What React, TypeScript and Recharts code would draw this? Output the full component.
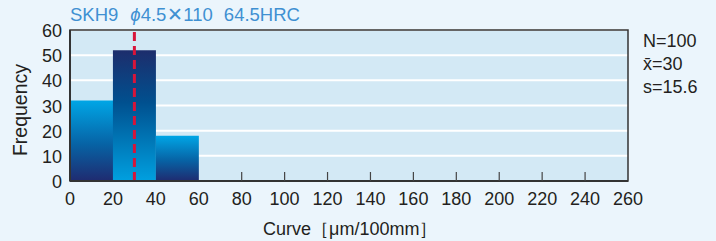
import React from 'react';
import { ComposedChart, Bar, Cell, XAxis, YAxis, CartesianGrid, ReferenceLine, ReferenceArea } from 'recharts';

const binStarts = [0, 20, 40, 60, 80, 100, 120, 140, 160, 180, 200, 220, 240];
const binWidth = 20;
const frequency = [32, 52, 18, 0, 0, 0, 0, 0, 0, 0, 0, 0, 0];
const xTicks = [0, 20, 40, 60, 80, 100, 120, 140, 160, 180, 200, 220, 240, 260];
const yTicks = [0, 10, 20, 30, 40, 50, 60];
const meanValue = 30;
const titleMaterial = 'SKH9';
const titleSize = ['\u03d5', '4.5', '\u2715', '110'];
const titleHardness = '64.5HRC';
const statsLines = ['N=100', 'x\u0304=30', 's=15.6'];
const xLabel = 'Curve\uff3b\u03bcm/100mm\uff3d';
const yLabel = 'Frequency';

const data = binStarts.map((s, i) => ({ mid: s + binWidth / 2, count: frequency[i] }));
const lastFilledEdge = (() => {
  let idx = -1;
  frequency.forEach((v, i) => { if (v > 0) idx = i; });
  return binStarts[idx] + binWidth;
})();
const xMax = xTicks[xTicks.length - 1];

const FONT = '"Liberation Sans", Arial, Helvetica, sans-serif';
const TEXT = '#231f20';
const TITLE = '#3f90d2';
const FS = 18;

const XTick = (props: any) => {
  const { x, y, payload } = props;
  const v = payload.value;
  const drawLine = v > lastFilledEdge && v < xMax;
  return (
    <g>
      {drawLine && <line x1={x} x2={x} y1={y} y2={y - 9} stroke="#444" strokeWidth={1.2} />}
      <text x={x} y={y + 24} textAnchor="middle" fontSize={FS} fill={TEXT} fontFamily={FONT}>{v}</text>
    </g>
  );
};

const YTick = (props: any) => {
  const { x, y, payload } = props;
  return (
    <text x={x} y={y + 7} textAnchor="end" fontSize={FS} fill={TEXT} fontFamily={FONT}>{payload.value}</text>
  );
};

export default function App() {
  return (
    <div style={{ position: 'absolute', left: 0, top: 0, width: 716, height: 241, background: '#ebf5fc', fontFamily: FONT, overflow: 'hidden' }}>
      <div style={{ position: 'absolute', left: 70, top: 3, fontSize: 18.5, color: TITLE, whiteSpace: 'pre', display: 'flex', alignItems: 'baseline' }}>
        <span>{titleMaterial}</span>
        <span style={{ marginLeft: 12, fontStyle: 'italic' }}>{titleSize[0]}</span>
        <span>{titleSize[1]}</span>
        <span style={{ fontFamily: '"DejaVu Sans", sans-serif', fontSize: 19, fontWeight: 300, margin: '0 0 0 1px' }}>{titleSize[2]}</span>
        <span>{titleSize[3]}</span>
        <span style={{ marginLeft: 11 }}>{titleHardness}</span>
      </div>
      <div style={{ position: 'absolute', left: 643, top: 30, fontSize: FS, color: TEXT, lineHeight: '23px' }}>
        {statsLines.map((s) => <div key={s}>{s}</div>)}
      </div>
      <div style={{ position: 'absolute', left: 263, top: 217, fontSize: FS, color: TEXT, whiteSpace: 'nowrap' }}>{xLabel}</div>
      <div style={{ position: 'absolute', left: 20, top: 110, fontSize: 19.5, color: TEXT, transform: 'translate(-50%, -50%) rotate(-90deg)', whiteSpace: 'nowrap' }}>{yLabel}</div>
      <div style={{ position: 'absolute', left: 0, top: 0 }}>
        <ComposedChart width={716} height={241} data={data} margin={{ top: 30, right: 88, bottom: 30, left: 0 }} barCategoryGap={0} barGap={0}>
          <defs>
            <linearGradient id="gradUp" x1="0" y1="0" x2="0" y2="1">
              <stop offset="0%" stopColor="#00a6e6" />
              <stop offset="55%" stopColor="#0762a4" />
              <stop offset="100%" stopColor="#1f2b70" />
            </linearGradient>
            <linearGradient id="gradDown" x1="0" y1="0" x2="0" y2="1">
              <stop offset="0%" stopColor="#1d2d6c" />
              <stop offset="40%" stopColor="#00508f" />
              <stop offset="100%" stopColor="#00a0e0" />
            </linearGradient>
          </defs>
          <CartesianGrid vertical={false} stroke="#ffffff" strokeWidth={2} fill="#d3e9f5" />
          <XAxis dataKey="mid" type="number" domain={[0, xMax]} ticks={xTicks} tick={<XTick />} tickSize={0} tickMargin={0} axisLine={{ stroke: '#333', strokeWidth: 2 }} tickLine={false} height={30} interval={0} allowDataOverflow />
          <YAxis domain={[0, 60]} ticks={yTicks} width={70} tick={<YTick />} tickLine={false} tickSize={0} tickMargin={8} axisLine={{ stroke: '#333', strokeWidth: 2 }} interval={0} />
          <Bar dataKey="count" isAnimationActive={false}>
            {data.map((d, i) => <Cell key={d.mid} fill={i % 2 === 0 ? 'url(#gradUp)' : 'url(#gradDown)'} />)}
          </Bar>
          <ReferenceArea x1={0} x2={xMax} y1={0} y2={60} fill="none" stroke="#333" strokeWidth={1.5} ifOverflow="visible" />
          <ReferenceLine x={meanValue} stroke="#d8153a" strokeWidth={3} strokeDasharray="9 5" />
        </ComposedChart>
      </div>
    </div>
  );
}
